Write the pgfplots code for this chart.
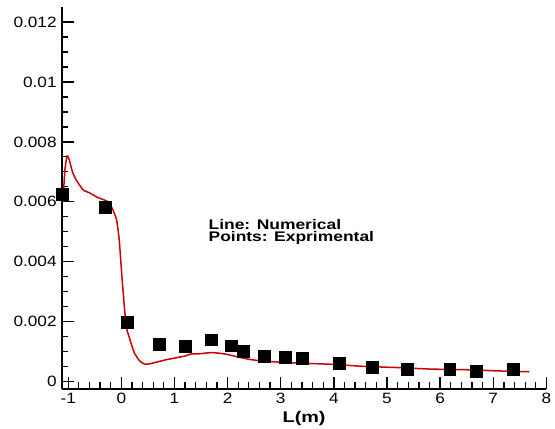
\documentclass[border=0pt]{standalone}
\usepackage{pgfplots}
\pgfplotsset{compat=1.18}
\usepackage{fontspec}
\setmainfont{Liberation Sans}
\begin{document}
\begin{tikzpicture}[x=1pt,y=1pt]
\begin{axis}[
  scale only axis, width=486pt, height=383pt,
  xmin=-1.12, xmax=8, ymin=-0.00024, ymax=0.0125,
  axis lines=left, axis line style={-, line width=1.6pt},
  xtick={-1,0,1,2,3,4,5,6,7,8},
  ytick={0,0.002,0.004,0.006,0.008,0.01,0.012},
  minor x tick num=4, minor y tick num=3,
  tick align=inside,
  major tick length=12pt, minor tick length=6.5pt,
  every tick/.style={black, line width=1.3pt},
  scaled y ticks=false,
  yticklabel style={/pgf/number format/fixed, /pgf/number format/precision=3},
  /pgf/number format/assume math mode=true,
  tick label style={font=\fontsize{15}{17}\selectfont, xscale=1.15},
  xticklabel style={yshift=-1pt},
  yticklabel style={xshift=-1pt},
  xlabel={\textbf{L(m)}},
  xlabel style={font=\fontsize{15.5}{18}\selectfont, xscale=1.28, yshift=0pt},
  clip=false,
]
\addplot[color={rgb,255:red,204;green,0;blue,0}, line width=1.5pt, smooth, tension=0.3] coordinates {
(-1.10,0.0060) (-1.06,0.0071) (-1.02,0.00753) (-0.98,0.0074) (-0.92,0.0070) (-0.85,0.00673) (-0.72,0.0064) (-0.6,0.0063)
(-0.55,0.00625) (-0.45,0.00615) (-0.38,0.0061) (-0.25,0.0060) (-0.16,0.00574) (-0.09,0.0054) (-0.04,0.00474)
(0.02,0.0033) (0.09,0.00186) (0.16,0.00142) (0.24,0.00098) (0.34,0.0007) (0.43,0.00059)
(0.52,0.00059) (0.84,0.00073) (1.21,0.00086) (1.3,0.00092) (1.46,0.00093) (1.71,0.00097)
(1.96,0.00092) (2.39,0.00075) (2.7,0.00068) (3.33,0.00062) (3.95,0.00058) (4.57,0.00051)
(5.2,0.00047) (5.82,0.00042) (6.44,0.0004) (7.07,0.00036) (7.68,0.00033)
};
\addplot[only marks, mark=square*, mark size=6pt, color=black] coordinates {
(-1.12,0.00624) (-0.30,0.00583) (0.106,0.00199) (0.71,0.00125) (1.2,0.00119)
(1.70,0.0014) (2.06,0.0012) (2.29,0.00103) (2.69,0.00085) (3.08,0.00083) (3.40,0.00079)
(4.10,0.0006) (4.73,0.00049) (5.38,0.0004) (6.18,0.0004) (6.67,0.00036) (7.38,0.0004)
};
\node[anchor=west, font=\fontsize{14}{15}\selectfont\bfseries, align=left, xscale=1.25] at (axis cs:1.56,0.00499) {Line: Numerical\\[-2.5pt]Points: Exprimental};
\coordinate (bl) at (rel axis cs:0,0);
\end{axis}
\useasboundingbox ([shift={(-62pt,-37pt)}]bl) rectangle ++(555pt,427pt);
\end{tikzpicture}
\end{document}
